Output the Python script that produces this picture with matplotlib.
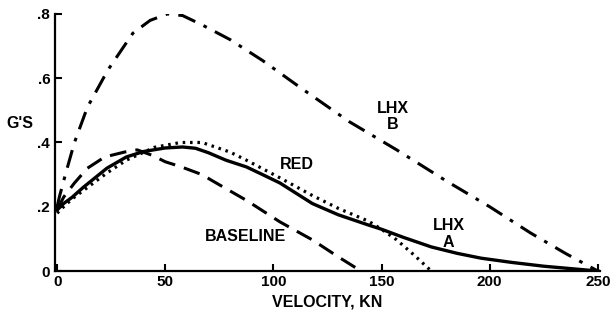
import numpy as np
import matplotlib
matplotlib.use("Agg")
import matplotlib.pyplot as plt

plt.rcParams['font.family'] = ['Liberation Sans', 'DejaVu Sans']
plt.rcParams['font.weight'] = 'bold'

# LHX B (dash-dot)
v_b = [0, 1, 4, 8, 14, 23.5, 35, 43, 51, 58, 67, 80, 95, 112, 135, 157, 180, 200, 219, 235, 250]
g_b = [0.20, 0.23, 0.305, 0.40, 0.51, 0.626, 0.74, 0.78, 0.80, 0.795, 0.766, 0.72, 0.655, 0.573, 0.465, 0.377, 0.28, 0.20, 0.118, 0.055, 0.0]

# baseline (dashed)
v_base = [0, 3, 8, 14, 22, 31, 37, 44, 50, 57, 67, 72, 87.5, 103, 118, 130, 140.5]
g_base = [0.19, 0.23, 0.274, 0.32, 0.355, 0.37, 0.377, 0.36, 0.34, 0.325, 0.30, 0.28, 0.22, 0.153, 0.097, 0.044, 0.0]

# RED (dotted)
v_red = [0, 3, 7, 12, 23, 32, 45, 57, 67, 80, 87.5, 103, 118, 130, 144, 150, 157, 165, 173]
g_red = [0.18, 0.20, 0.225, 0.25, 0.305, 0.345, 0.385, 0.40, 0.40, 0.37, 0.345, 0.29, 0.235, 0.195, 0.155, 0.13, 0.097, 0.05, 0.0]

# LHX A (solid)
v_a = [0, 3, 7, 12, 23, 32, 40, 50, 58, 64, 70, 78, 87.5, 95, 103, 118, 130, 144, 150, 160, 173, 185, 196, 210, 225, 240, 250]
g_a = [0.19, 0.21, 0.23, 0.26, 0.32, 0.355, 0.372, 0.383, 0.386, 0.382, 0.368, 0.345, 0.324, 0.30, 0.274, 0.21, 0.175, 0.143, 0.13, 0.105, 0.075, 0.055, 0.04, 0.027, 0.015, 0.006, 0.0]

x_ticks = [0, 50, 100, 150, 200, 250]
y_ticks = [0, 0.2, 0.4, 0.6, 0.8]
y_labels = ['0', '.2', '.4', '.6', '.8']

fig = plt.figure(figsize=(6.11, 3.17), dpi=100)
ax = fig.add_axes([0.090, 0.145, 0.892, 0.811])

ax.plot(v_b, g_b, color='black', lw=2.2, dashes=(6, 3, 1.2, 3))
ax.plot(v_base, g_base, color='black', lw=2.2, dashes=(5.5, 3))
ax.plot(v_red, g_red, color='black', lw=2.3, dashes=(0.8, 1.5))
ax.plot(v_a, g_a, color='black', lw=2.4)

ax.set_xlim(-1, 251)
ax.set_ylim(0, 0.8)
ax.set_xticks(x_ticks)
ax.set_yticks(y_ticks)
ax.set_yticklabels(y_labels)
ax.tick_params(direction='in', length=5, width=1.5, labelsize=11)
ax.tick_params(axis='x', pad=3)
for s in ['top', 'right']:
    ax.spines[s].set_visible(False)
for s in ['left', 'bottom']:
    ax.spines[s].set_linewidth(1.6)

ax.set_xlabel('VELOCITY, KN', fontsize=11.5, fontweight='bold', labelpad=4)
fig.text(20 / 611, 1 - 123 / 317, "G'S", fontsize=11.5, fontweight='bold', ha='center', va='center')

ax.text(155, 0.48, 'LHX\nB', fontsize=11.5, fontweight='bold', ha='center', va='center', linespacing=1.1)
ax.text(111, 0.33, 'RED', fontsize=11.5, fontweight='bold', ha='center', va='center')
ax.text(87, 0.107, 'BASELINE', fontsize=11.5, fontweight='bold', ha='center', va='center')
ax.text(181, 0.115, 'LHX\nA', fontsize=11.5, fontweight='bold', ha='center', va='center', linespacing=1.1)

fig.savefig('out.png', dpi=100)
